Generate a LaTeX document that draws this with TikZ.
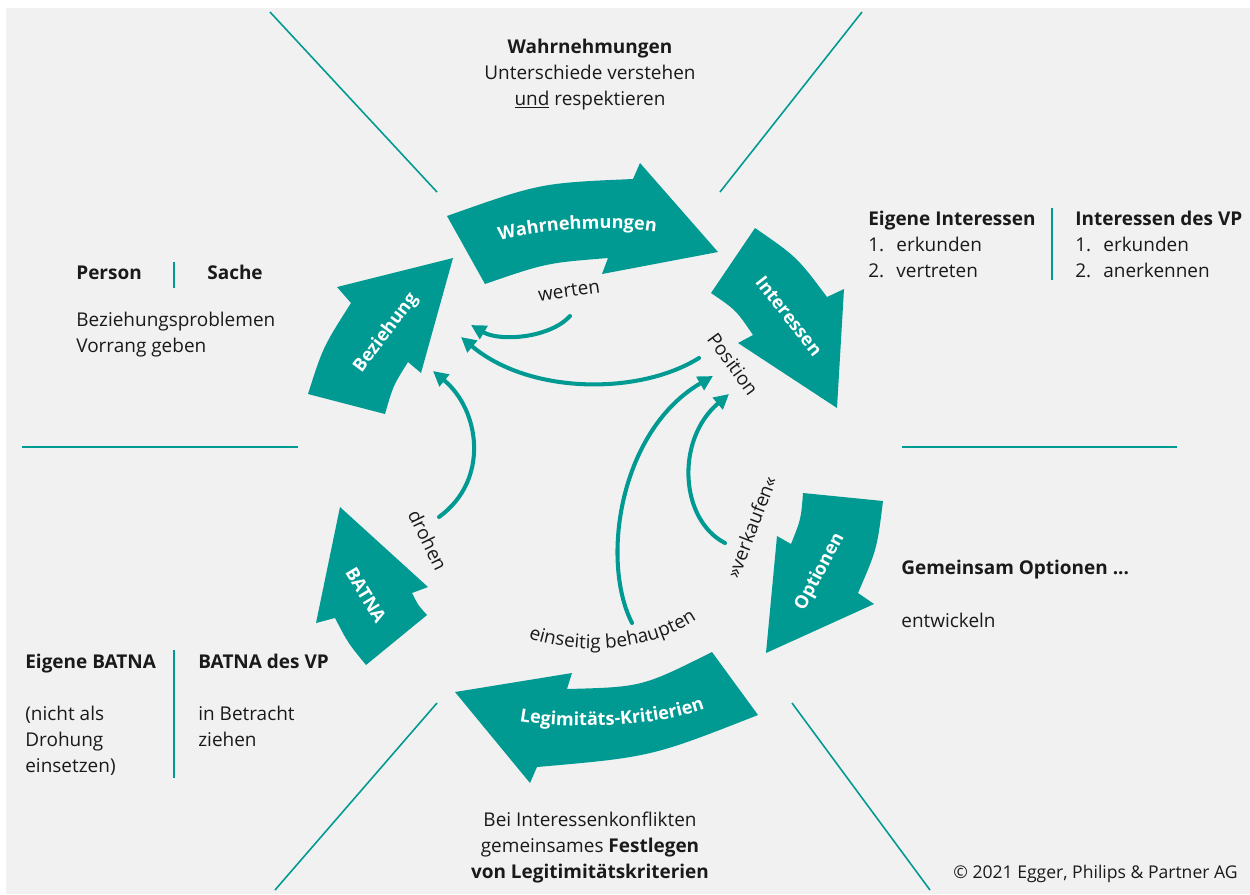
\documentclass[tikz,border=0pt]{standalone}
\usepackage{fontspec}
\setmainfont{Open Sans}
\usetikzlibrary{arrows.meta,decorations.text}
\definecolor{petrol}{HTML}{009A93}
\definecolor{paper}{HTML}{F1F1F1}
\definecolor{ink}{HTML}{1A1A1A}
\newcommand\bodysize{\fontsize{10.8}{13}\selectfont}
\newcommand\tagfont{\color{white}\bfseries\fontsize{10.3}{12}\selectfont}

\tikzset{
  txt/.style={font=\bodysize, text=ink, inner sep=0pt, anchor=base west},
  bold/.style={txt, font=\bodysize\bfseries},
  ctxt/.style={txt, anchor=base},
  tag/.style={font=\tagfont, inner sep=0pt},
  lbl/.style={font=\bodysize, text=ink, inner sep=0pt},
  flow/.style={petrol, line width=2.3pt, line cap=round, -{Triangle[length=8.5pt,width=8.5pt]}},
  divide/.style={petrol, line width=0.9pt},
  bar/.style={petrol, line width=1.1pt},
}

\begin{document}
\begin{tikzpicture}[x=0.02cm, y=-0.02cm]
\useasboundingbox (0,0) rectangle (1250,894);
\fill[paper] (6,8) rectangle (1250,894);

% sector lines
\draw[divide] (270,12) -- (437,192);
\draw[divide] (862,12) -- (720,192);
\draw[divide] (22,447) -- (298,447);
\draw[divide] (902,447) -- (1177,447);
\draw[divide] (437,703) -- (275,890);
\draw[divide] (792,703) -- (930,890);

% the six block arrows
\fill[petrol] (447,216) .. controls (540,183) .. (633,179) -- (640,163) -- (718,252)
  -- (602,274) -- (608,258) .. controls (546,263) .. (485,284) -- cycle;
\fill[petrol] (755,228) .. controls (797,257) .. (827,297) -- (844,289) -- (837,408)
  -- (738,343) -- (753,335) .. controls (736,310) .. (711,293) -- cycle;
\fill[petrol] (883,501) .. controls (877,549) .. (858,593) -- (874,604) -- (766,653)
  -- (777,536) -- (791,544) .. controls (801,519) .. (803,493) -- cycle;
\fill[petrol] (758,715) .. controls (651,757) .. (537,767) -- (530,783) -- (455,692)
  -- (572,673) -- (567,689) .. controls (642,687) .. (712,652) -- cycle;
\fill[petrol] (340,507) -- (428,587) -- (412,593) .. controls (418,605) .. (427,615)
  -- (366,665) .. controls (348,643) .. (335,618) -- (316,623) -- cycle;
\fill[petrol] (453,258) -- (337,287) -- (351,303) .. controls (323,347) .. (308,394)
  -- (385,414) .. controls (393,386) .. (408,362) -- (421,373) -- cycle;

% arrow labels
\path[decorate, decoration={text along path, text align=center,
  text={|\tagfont|Wahrnehmungen}}] (494,242) .. controls (530,230) and (615,224) .. (662,233);
\node[tag, rotate=-52] (interessen) at (789,316) {Interessen};
\node[tag, rotate=62] (optionen) at (820,572) {Optionen};
\path[decorate, decoration={text along path, text align=center,
  text={|\tagfont|Legimitäts-Kritierien}}] (510,719) .. controls (545,729) and (655,731) .. (714,705);
\node[tag, rotate=-59] (batna) at (366,595) {BATNA};
\node[tag, rotate=53] (beziehung) at (386,333) {Beziehung};

% connector labels
\node[lbl, rotate=8] (werten) at (569,291) {werten};
\node[lbl, rotate=-54] (position) at (733,364) {Position};
\node[lbl, rotate=69] (verkaufen) at (751,527) {»verkaufen«};
\node[lbl, rotate=-64] (drohen) at (428,540) {drohen};
\path[decorate, decoration={text along path, text align=center,
  text={|\bodysize\color{ink}|einseitig behaupten}}] (518,634) .. controls (570,656) and (650,656) .. (706,613);

% connectors
\coordinate (wertenA) at (570,316);
\coordinate (wertenB) at (471,325);
\coordinate (posA) at (699,358);
\coordinate (posB) at (461,337);
\coordinate (drohA) at (439,517);
\coordinate (drohB) at (433,371);
\coordinate (behA) at (632,623);
\coordinate (behB) at (713,376);
\coordinate (verkA) at (725,543);
\coordinate (verkB) at (729,394);
\draw[flow] (wertenA) .. controls (550,338) and (500,342) .. (wertenB);
\draw[flow] (posA) .. controls (640,395) and (530,395) .. (posB);
\draw[flow] (drohA) .. controls (490,480) and (480,410) .. (drohB);
\draw[flow] (behA) .. controls (600,560) and (620,430) .. (behB);
\draw[flow] (verkA) .. controls (680,520) and (675,440) .. (verkB);

% top text
\node[ctxt, font=\bodysize\bfseries] (topHead) at (590,53) {Wahrnehmungen};
\node[ctxt] (topA) at (590,79) {Unterschiede verstehen};
\node[ctxt] (topB) at (590,105) {\underline{und} respektieren};

% interests
\node[bold] (ownInt) at (868,225) {Eigene Interessen};
\foreach \w [count=\i] in {erkunden,vertreten} {
  \node[txt] (ownNum\i) at (868,225+26*\i) {\i.};
  \node[txt] (ownTxt\i) at (896,225+26*\i) {\w};
}
\draw[bar] (1052,208) -- (1052,280);
\node[bold] (vpInt) at (1075,225) {Interessen des VP};
\foreach \w [count=\i] in {erkunden,anerkennen} {
  \node[txt] (vpNum\i) at (1075,225+26*\i) {\i.};
  \node[txt] (vpTxt\i) at (1103,225+26*\i) {\w};
}

% relation
\node[bold] (person) at (76,279) {Person};
\draw[bar] (174,262) -- (174,288);
\node[bold] (sache) at (207,279) {Sache};
\node[txt] (relA) at (76,326) {Beziehungsproblemen};
\node[txt] (relB) at (76,352) {Vorrang geben};

% options
\node[bold] (optHead) at (901,574) {Gemeinsam Optionen ...};
\node[txt] (optTxt) at (901,627) {entwickeln};

% batna
\node[bold] (ownBatna) at (25,668) {Eigene BATNA};
\node[txt] (ownB1) at (25,720) {(nicht als};
\node[txt] (ownB2) at (25,746) {Drohung};
\node[txt] (ownB3) at (25,772) {einsetzen)};
\draw[bar] (174,650) -- (174,778);
\node[bold] (vpBatna) at (198,668) {BATNA des VP};
\node[txt] (vpB1) at (198,720) {in Betracht};
\node[txt] (vpB2) at (198,746) {ziehen};

% criteria
\node[ctxt] (critA) at (590,826) {Bei Interessenkonflikten};
\node[ctxt] (critB) at (590,852) {gemeinsames \textbf{Festlegen}};
\node[ctxt] (critC) at (590,878) {\textbf{von Legitimitätskriterien}};

\node[txt, anchor=base east, font=\fontsize{10}{12}\selectfont] (copy) at (1238,878) {© 2021 Egger, Philips \& Partner AG};
\end{tikzpicture}
\end{document}
